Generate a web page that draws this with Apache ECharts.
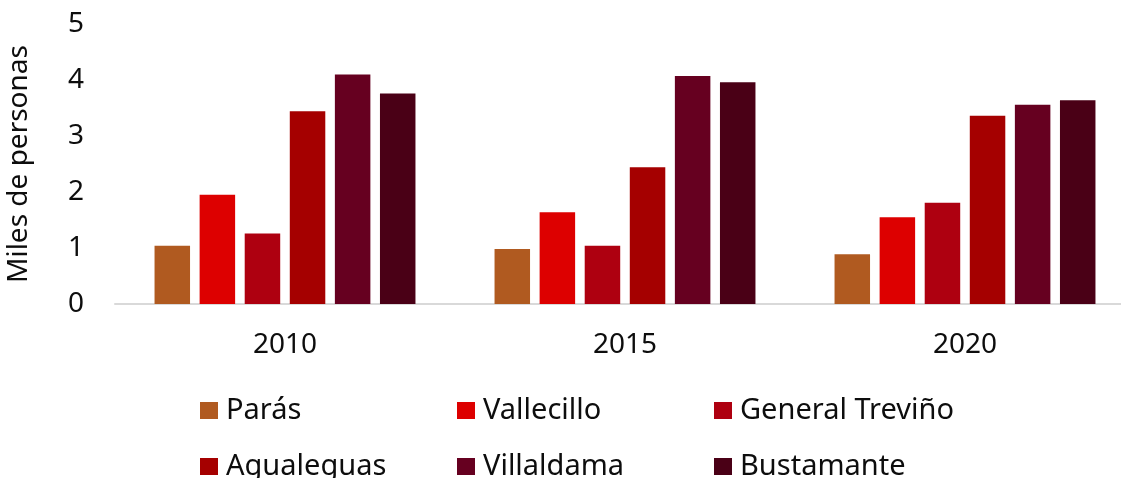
<!DOCTYPE html>
<html><head><meta charset="utf-8">
<script src="https://cdn.jsdelivr.net/npm/echarts@6/dist/echarts.min.js"></script>
<style>html,body{margin:0;padding:0;background:#fff}#c{width:1121px;height:478px}</style>
</head><body><div id="c"></div>
<script>
const years = ['2010', '2015', '2020'];
const seriesNames = ['Parás', 'Vallecillo', 'General Treviño', 'Agualeguas', 'Villaldama', 'Bustamante'];
const paras = [1.04, 0.98, 0.89];
const vallecillo = [1.95, 1.64, 1.55];
const generalTrevino = [1.26, 1.04, 1.81];
const agualeguas = [3.44, 2.44, 3.36];
const villaldama = [4.10, 4.07, 3.56];
const bustamante = [3.76, 3.96, 3.64];
const yTicks = [0, 1, 2, 3, 4, 5];

const values = [paras, vallecillo, generalTrevino, agualeguas, villaldama, bustamante];
const colors = ['#B05A20', '#DD0000', '#AE0010', '#A50000', '#660020', '#4A0016'];
const FONT = 'Noto Sans';

const chart = echarts.init(document.getElementById('c'));
const legendPos = [[200, 396], [457, 396], [714, 396], [200, 452], [457, 452], [714, 452]];
const legends = seriesNames.map((n, i) => ({
  data: [n], left: legendPos[i][0], top: legendPos[i][1], padding: 0,
  itemWidth: 18, itemHeight: 17, itemGap: 0, icon: 'rect',
  textStyle: {fontFamily: FONT, fontSize: 29, color: '#0d0d0d', padding: [0, 0, 0, 3]},
  selectedMode: false
}));
chart.setOption({
  animation: false,
  color: colors,
  textStyle: {fontFamily: FONT},
  grid: {left: 115, top: 24, width: 1020, height: 280, outerBoundsMode: 'none', containLabel: false},
  legend: legends,
  xAxis: {
    type: 'category', data: years,
    axisLine: {lineStyle: {color: '#d9d9d9', width: 2}},
    axisTick: {show: false},
    axisLabel: {fontFamily: FONT, fontSize: 28, color: '#0d0d0d', margin: 27}
  },
  yAxis: {
    type: 'value', min: yTicks[0], max: yTicks[yTicks.length - 1], interval: 1,
    name: 'Miles de personas', nameLocation: 'middle', nameGap: 82,
    nameTextStyle: {fontFamily: FONT, fontSize: 28, color: '#0d0d0d'},
    axisLine: {show: false}, axisTick: {show: false}, splitLine: {show: false},
    axisLabel: {fontFamily: FONT, fontSize: 28, color: '#0d0d0d', margin: 31}
  },
  series: seriesNames.map((n, i) => ({
    name: n, type: 'bar', data: values[i], barWidth: 35.5, barGap: '27%',
    itemStyle: {color: colors[i]}
  }))
});
</script></body></html>
